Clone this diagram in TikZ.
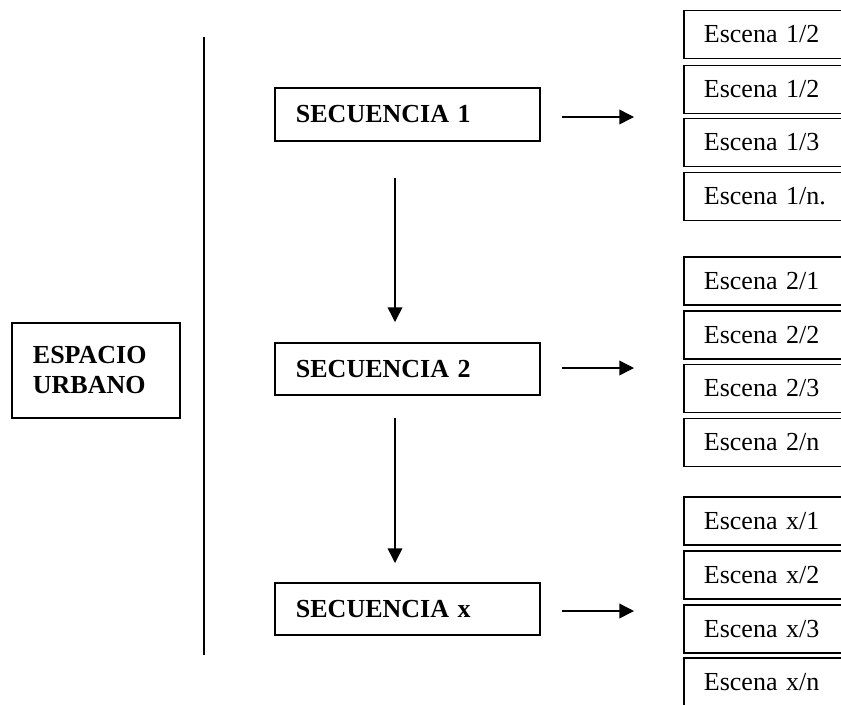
\documentclass[tikz,border=0pt]{standalone}
\usepackage{fontspec}
\setmainfont{Liberation Serif}
\usetikzlibrary{arrows.meta}
\begin{document}
\begin{tikzpicture}[x=0.75pt,y=-0.75pt,
  box/.style={draw,line width=1.4pt,rectangle,align=left,anchor=west,inner ysep=0pt,
    font=\fontsize{19.5}{22.5}\selectfont},
  seqbox/.style={box,font=\fontsize{19.5}{22.5}\selectfont\bfseries,
    minimum height=39.5pt,inner xsep=15.75pt,text width=167.25pt},
  scenebox/.style={box,minimum height=36pt,inner xsep=15pt,text width=110pt},
  mainbox/.style={box,font=\fontsize{19.5}{22.5}\selectfont\bfseries,
    minimum height=71.25pt,inner xsep=15.75pt,text width=94.5pt},
  arr/.style={line width=1.1pt,-{Triangle[length=11pt,width=11pt]}},
  divider/.style={line width=1.4pt}
]
\clip (0,0) rectangle (841,704);
\fill[white] (0,0) rectangle (841,704);

% main box
\node[mainbox] (esp) at (11,370.5) {ESPACIO\\URBANO};

% divider
\coordinate (dtop) at (204,37);
\coordinate (dbot) at (204,655);
\draw[divider] (dtop) -- (dbot);

% sequence boxes
\node[seqbox] (s1) at (274,114.5) {SECUENCIA 1};
\node[seqbox] (s2) at (274,369) {SECUENCIA 2};
\node[seqbox] (sx) at (274,609) {SECUENCIA x};

% vertical arrows
\coordinate (v1a) at (395,178);
\coordinate (v1b) at (395,322);
\coordinate (v2a) at (395,418);
\coordinate (v2b) at (395,563);
\draw[arr] (v1a) -- (v1b);
\draw[arr] (v2a) -- (v2b);

% horizontal arrows
\coordinate (h1a) at (562,117);
\coordinate (h1b) at (634,117);
\coordinate (h2a) at (562,368);
\coordinate (h2b) at (634,368);
\coordinate (hxa) at (562,611);
\coordinate (hxb) at (634,611);
\draw[arr] (h1a) -- (h1b);
\draw[arr] (h2a) -- (h2b);
\draw[arr] (hxa) -- (hxb);

% scene boxes
\foreach \yy/\nm/\tx in {34.5/e11/{Escena 1/2},89.5/e12/{Escena 1/2},142.5/e13/{Escena 1/3},196.5/e14/{Escena 1/n.},
  281/e21/{Escena 2/1},335/e22/{Escena 2/2},388.5/e23/{Escena 2/3},442.5/e24/{Escena 2/n},
  521/ex1/{Escena x/1},575/ex2/{Escena x/2},629/ex3/{Escena x/3},682/ex4/{Escena x/n}}
  \node[scenebox] (\nm) at (683,\yy) {\tx};
\end{tikzpicture}
\end{document}
